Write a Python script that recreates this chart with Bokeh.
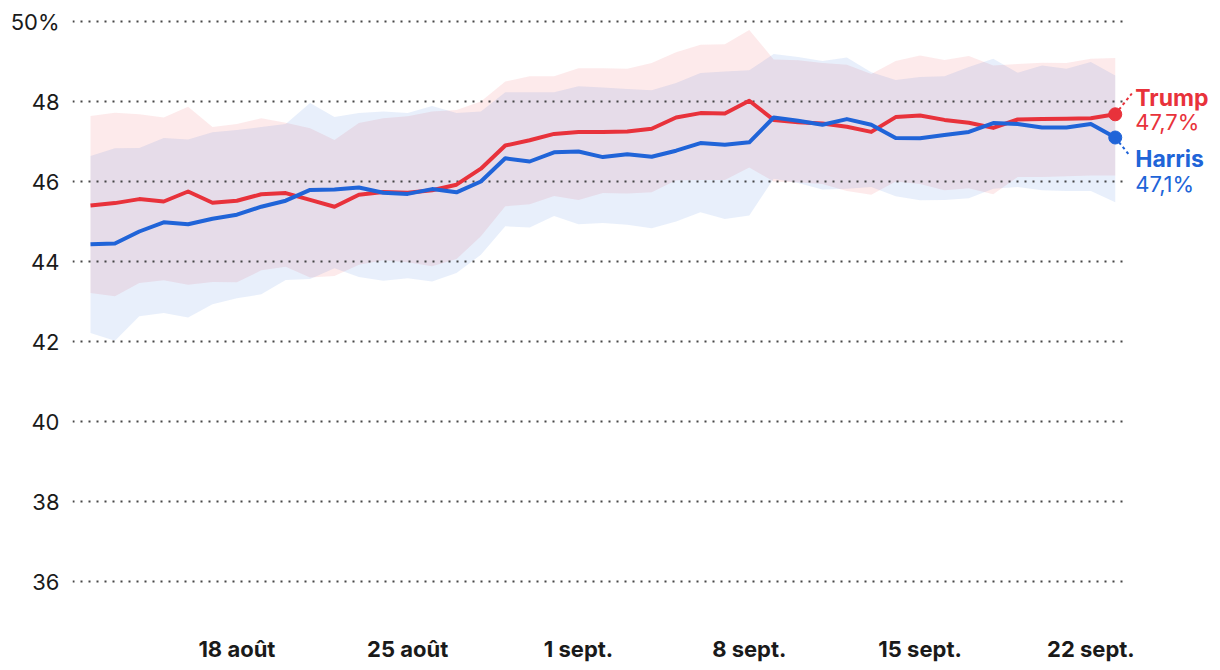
import pandas as pd
from datetime import timedelta
from bokeh.plotting import figure
from bokeh.models import Range1d, FixedTicker, Label
from bokeh.embed import file_html
from bokeh.resources import INLINE

# ---------------- data ----------------
dates = pd.date_range("2024-08-12", periods=43, freq="D")

trump = [45.40, 45.46, 45.56, 45.50, 45.75, 45.47, 45.52, 45.68, 45.71, 45.54,
         45.37, 45.67, 45.74, 45.72, 45.78, 45.92, 46.32, 46.90, 47.03, 47.19,
         47.24, 47.24, 47.25, 47.32, 47.60, 47.71, 47.70, 48.02, 47.54, 47.48,
         47.45, 47.37, 47.24, 47.61, 47.65, 47.54, 47.47, 47.34, 47.55, 47.56,
         47.57, 47.58, 47.68]
harris = [44.43, 44.45, 44.75, 44.98, 44.93, 45.07, 45.17, 45.37, 45.52, 45.79,
          45.80, 45.85, 45.72, 45.69, 45.81, 45.73, 46.00, 46.58, 46.50, 46.73,
          46.75, 46.61, 46.68, 46.62, 46.77, 46.96, 46.92, 46.98, 47.60, 47.52,
          47.42, 47.56, 47.42, 47.09, 47.08, 47.16, 47.24, 47.46, 47.44, 47.35,
          47.35, 47.44, 47.10]
trump_hi = [47.64, 47.72, 47.68, 47.60, 47.87, 47.36, 47.44, 47.58, 47.47, 47.33,
            47.04, 47.46, 47.58, 47.63, 47.75, 47.79, 48.00, 48.50, 48.63, 48.63,
            48.83, 48.83, 48.82, 48.96, 49.23, 49.42, 49.43, 49.79, 49.05, 49.03,
            48.96, 48.92, 48.69, 49.01, 49.15, 49.04, 49.14, 48.90, 48.94, 48.97,
            48.96, 49.07, 49.09]
trump_lo = [43.21, 43.13, 43.46, 43.53, 43.42, 43.49, 43.48, 43.78, 43.87, 43.60,
            43.64, 43.92, 44.03, 43.98, 43.88, 44.06, 44.63, 45.38, 45.43, 45.64,
            45.54, 45.71, 45.70, 45.73, 46.03, 46.04, 46.04, 46.35, 46.00, 45.98,
            45.94, 45.76, 45.67, 46.00, 45.94, 45.78, 45.83, 45.68, 46.11, 46.11,
            46.13, 46.15, 46.15]
harris_hi = [46.64, 46.83, 46.84, 47.09, 47.05, 47.23, 47.29, 47.36, 47.44, 47.96,
             47.61, 47.71, 47.75, 47.71, 47.89, 47.71, 47.75, 48.23, 48.23, 48.23,
             48.38, 48.35, 48.31, 48.28, 48.46, 48.71, 48.75, 48.78, 49.19, 49.11,
             49.01, 49.10, 48.73, 48.54, 48.61, 48.63, 48.86, 49.07, 48.72, 48.90,
             48.82, 48.99, 48.65]
harris_lo = [42.21, 42.02, 42.63, 42.71, 42.60, 42.93, 43.08, 43.18, 43.54, 43.56,
             43.83, 43.61, 43.52, 43.58, 43.50, 43.71, 44.17, 44.88, 44.85, 45.14,
             44.93, 44.96, 44.92, 44.83, 45.00, 45.23, 45.06, 45.15, 46.07, 45.96,
             45.80, 45.82, 45.86, 45.63, 45.53, 45.54, 45.58, 45.82, 45.86, 45.78,
             45.76, 45.76, 45.48]

y_ticks = [36, 38, 40, 42, 44, 46, 48, 50]
x_tick_dates = ["2024-08-18", "2024-08-25", "2024-09-01", "2024-09-08", "2024-09-15", "2024-09-22"]
x_tick_labels = ["18 août", "25 août", "1 sept.", "8 sept.", "15 sept.", "22 sept."]

RED = "#e8323b"
BLUE = "#2064d8"
FONT = "Inter"
TXT = "#1a1a1a"

# ---------------- figure ----------------
x_start = dates[0] - timedelta(days=0.738)
x_end = dates[0] + timedelta(days=46.15)
grid_end = dates[0] + timedelta(days=42.54)

p = figure(width=1216, height=666, output_backend="svg", toolbar_location=None,
           x_axis_type="datetime", x_range=Range1d(x_start, x_end), y_range=Range1d(35.5, 50.2),
           min_border_left=72, min_border_right=0, min_border_top=13, min_border_bottom=65)
p.outline_line_color = None
p.background_fill_color = "white"
p.border_fill_color = "white"
p.xgrid.grid_line_color = None
p.ygrid.grid_line_color = None

p.yaxis.ticker = FixedTicker(ticks=y_ticks)
p.yaxis.major_label_overrides = {50: "50%"}
for ax in (p.xaxis, p.yaxis):
    ax.axis_line_color = None
    ax.major_tick_line_color = None
    ax.minor_tick_line_color = None
    ax.major_tick_out = 0
    ax.major_tick_in = 0
    ax.minor_tick_out = 0
    ax.major_label_text_font = FONT
    ax.major_label_text_color = TXT
p.yaxis.major_label_text_font_size = "22px"
p.yaxis.major_label_standoff = 13

tick_ms = [int(pd.Timestamp(d).value // 10**6) for d in x_tick_dates]
p.xaxis.ticker = FixedTicker(ticks=tick_ms)
p.xaxis.major_label_overrides = {t: lab for t, lab in zip(tick_ms, x_tick_labels)}
p.xaxis.major_label_text_font_size = "22px"
p.xaxis.major_label_text_font_style = "bold"
p.xaxis.major_label_standoff = 34

# bands
p.varea(x=dates, y1=trump_lo, y2=trump_hi, fill_color=RED, fill_alpha=0.1)
p.varea(x=dates, y1=harris_lo, y2=harris_hi, fill_color=BLUE, fill_alpha=0.1)

# dotted horizontal gridlines (stop before the end labels)
p.segment(x0=[x_start] * len(y_ticks), y0=y_ticks, x1=[grid_end] * len(y_ticks), y1=y_ticks,
          line_color="#333333", line_width=2, line_dash="2 6", line_alpha=0.9)

# lines
p.line(dates, trump, line_color=RED, line_width=4, line_join="round")
p.line(dates, harris, line_color=BLUE, line_width=4, line_join="round")

# end markers
last = dates[-1]
p.scatter([last], [trump[-1]], size=13, color=RED)
p.scatter([last], [harris[-1]], size=13, color=BLUE)

# connectors
p.segment(x0=[last], y0=[trump[-1]], x1=[last + timedelta(days=0.68)], y1=[trump[-1] + 0.52],
          line_color=RED, line_width=2, line_dash="3 3")
p.segment(x0=[last], y0=[harris[-1]], x1=[last + timedelta(days=0.55)], y1=[harris[-1] - 0.42],
          line_color=BLUE, line_width=2, line_dash="3 3")

def pct(v):
    return f"{v:.1f}".replace(".", ",") + "%"

labels = [
    ("Trump", trump[-1] + 0.42, RED, "bold", "23px"),
    (pct(trump[-1]), trump[-1] - 0.19, RED, "normal", "22px"),
    ("Harris", harris[-1] - 0.53, BLUE, "bold", "23px"),
    (pct(harris[-1]), harris[-1] - 1.17, BLUE, "normal", "22px"),
]
for text, yv, col, style, size in labels:
    p.add_layout(Label(x=last, y=yv, x_offset=20, text=text, text_color=col,
                       text_font=FONT, text_font_style=style, text_font_size=size,
                       text_baseline="middle", text_align="left"))

open("out.html", "w").write(file_html(p, INLINE))
